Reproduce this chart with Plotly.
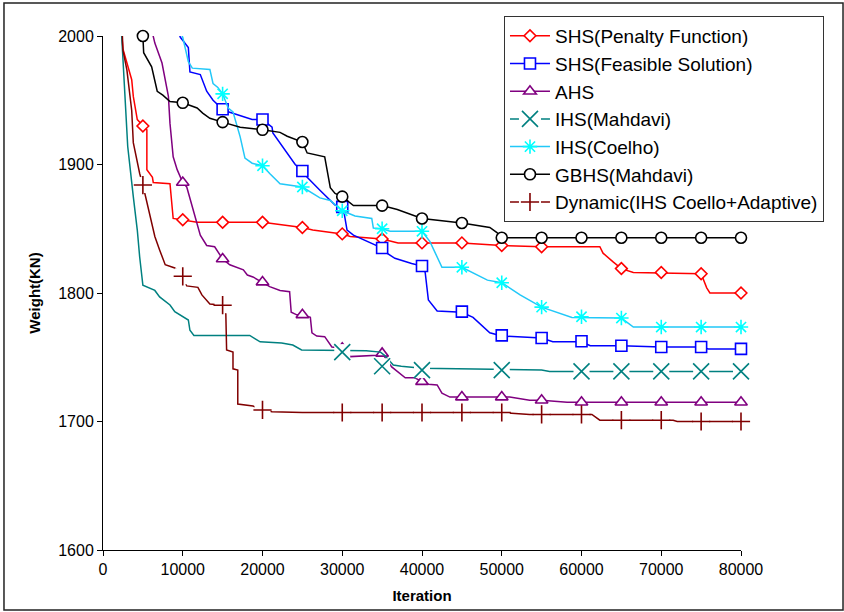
import plotly.graph_objects as go

# ---- data (iteration, weight) ----
pen_x = [2300, 2500, 3600, 3800, 4300, 5000, 5500, 5500, 6200, 6300, 8400, 8800, 10000, 11800, 20000,
         25000, 26300, 30000, 31000, 35000, 37000, 45000, 50000, 55000, 62300, 62700, 64000, 65000,
         66500, 74000, 75000, 75700, 76100, 80000]
pen_y = [2005, 1990, 1966, 1953, 1935, 1930, 1927, 1896, 1890, 1886, 1885, 1858, 1857, 1855, 1855,
         1851, 1849, 1846, 1844, 1842, 1839, 1839, 1837, 1836, 1836, 1831, 1824, 1819,
         1816, 1815, 1815, 1804, 1800, 1800]
pen_mx = [5000, 10000, 15000, 20000, 25000, 30000, 35000, 40000, 45000, 50000, 55000, 65000, 70000, 75000, 80000]
pen_my = [1930, 1857, 1855, 1855, 1851, 1846, 1842, 1839, 1839, 1837, 1836, 1819, 1816, 1815, 1800]

fea_x = [9400, 9700, 10700, 10900, 12200, 13000, 13800, 15000, 15700, 17200, 18700, 20000, 21200, 21300,
         24100, 25000, 25600, 27200, 29100, 30100, 30600, 31400, 33700, 35000, 35600, 36600, 38700,
         40000, 40400, 40800, 41900, 45000, 46400, 48500, 50000, 55000, 56400, 60000, 61100, 65000,
         70000, 75000, 75900, 80000]
fea_y = [2004, 1999, 1991, 1972, 1970, 1957, 1950, 1943, 1941, 1938, 1935, 1935, 1929, 1924.5,
         1900, 1895, 1890, 1880, 1868.5, 1867, 1849, 1845, 1839, 1835, 1831, 1827, 1823,
         1821, 1816, 1794.5, 1786, 1785, 1781, 1769, 1766.5, 1765, 1762, 1762, 1759, 1759,
         1758, 1758, 1756.5, 1756.5]
fea_mx = [15000, 20000, 25000, 30000, 35000, 40000, 45000, 50000, 55000, 60000, 65000, 70000, 75000, 80000]
fea_my = [1943, 1935, 1895, 1867, 1835, 1821, 1785.5, 1767, 1765, 1762.5, 1759, 1758, 1758, 1756.5]

ahs_x = [6100, 6500, 7400, 7800, 8200, 8400, 8800, 9300, 10000, 10500, 11200, 11800, 12200, 13000,
         14000, 15000, 15900, 17600, 18100, 18800, 20000, 20900, 22200, 23400, 23600, 24300, 25000,
         26000, 26200, 26800, 27800, 28700, 30000, 31000, 34400, 35000, 36200, 37900, 39100, 40000,
         40800, 41900, 42500, 43500, 51000, 53500, 55000, 58200, 80000]
ahs_y = [2005, 1994.5, 1979, 1966, 1953, 1932, 1906, 1896, 1886, 1882.5, 1867, 1854.5, 1845, 1837,
         1836, 1826.5, 1822, 1818, 1814, 1812.5, 1808.5, 1805, 1802, 1801, 1785, 1783, 1783,
         1781, 1769, 1766.5, 1766, 1758, 1757, 1750.5, 1751.5, 1753, 1742.5, 1734, 1734, 1731,
         1729, 1728.5, 1722, 1719, 1719, 1716.5, 1716.5, 1715, 1715]
ahs_mx = [10000, 15000, 20000, 25000, 30000, 35000, 40000, 45000, 50000, 55000, 60000, 65000, 70000, 75000, 80000]
ahs_my = [1886, 1826.5, 1808.5, 1783, 1757, 1753, 1731, 1719, 1719, 1716.5, 1715, 1715, 1715, 1715, 1715]

ihm_x = [2300, 2500, 2800, 3100, 3800, 4300, 4600, 4900, 5000, 6500, 7100, 8400, 9000, 10700, 10900,
         11400, 18400, 19700, 22400, 23800, 24900, 33000, 34800, 35300, 36400, 37400, 40000, 55000,
         56000, 80000]
ihm_y = [2005, 1983.5, 1942, 1914, 1875, 1849, 1828, 1810, 1806, 1802, 1797, 1790.7, 1785.5, 1779, 1771,
         1767, 1767, 1762, 1761, 1759.5, 1755.7, 1755, 1754, 1751.5, 1744, 1743, 1741.5, 1740,
         1739, 1739]
ihm_mx = [30000, 35000, 40000, 50000, 60000, 65000, 70000, 75000, 80000]
ihm_my = [1754, 1743, 1740, 1740, 1739, 1739, 1739, 1739, 1739]

ihc_x = [9600, 10000, 10700, 11200, 13400, 13800, 14400, 15000, 15700, 16300, 17200, 17800, 18700,
         20000, 20900, 22200, 25000, 26300, 27200, 28500, 30000, 31600, 33700, 33900, 35000, 36000,
         40000, 41000, 42500, 45000, 46400, 48200, 50000, 52300, 55000, 57300, 58800, 65000, 66500, 80000]
ihc_y = [2004, 1999, 1980, 1975, 1974, 1963, 1960, 1955, 1944, 1941, 1921.5, 1905, 1901,
         1899, 1893, 1885, 1882.5, 1877.5, 1874, 1872, 1864, 1860, 1858, 1850.5, 1850, 1848,
         1848, 1840, 1820, 1820, 1815.5, 1810, 1808, 1798.5, 1789, 1784, 1781, 1780.5, 1773.5, 1773.5]
ihc_mx = [15000, 20000, 25000, 30000, 35000, 40000, 45000, 50000, 55000, 60000, 65000, 70000, 75000, 80000]
ihc_my = [1955, 1899, 1882.5, 1864, 1850, 1848, 1820, 1808, 1789, 1781.5, 1780.5, 1773.5, 1773.5, 1773.5]

gb_x = [5000, 5100, 6100, 6800, 7500, 8400, 10000, 11800, 12500, 13400, 15000, 17200, 20000, 22200,
        23100, 25000, 25600, 27800, 28500, 29100, 30000, 31400, 35000, 36900, 40000, 45000, 48500,
        49400, 50000, 80000]
gb_y = [2000, 1987, 1976, 1957, 1954, 1949, 1948, 1944, 1940, 1936, 1933, 1929, 1927, 1925,
        1922, 1917.5, 1909, 1906, 1882, 1877.5, 1875, 1868, 1868, 1865, 1858, 1854.5, 1851,
        1847, 1843, 1843]
gb_mx = [5000, 10000, 15000, 20000, 25000, 30000, 35000, 40000, 45000, 50000, 55000, 60000, 65000, 70000, 75000, 80000]
gb_my = [2000, 1948, 1933, 1927, 1917.5, 1875, 1868, 1858, 1854.5, 1843, 1843, 1843, 1843, 1843, 1843, 1843]

dyn_x = [2400, 2500, 3000, 3600, 3800, 4300, 4600, 5000, 5500, 6100, 6500, 7100, 7800, 9000, 10000,
         10500, 11900, 12400, 13400, 15000, 15400, 15500, 16300, 16300, 16900, 16900, 18800, 20000,
         21200, 25000, 50000, 53500, 61300, 62300, 71500, 72000, 80000]
dyn_y = [2005, 1989, 1973.5, 1942, 1917, 1901, 1893, 1884, 1870, 1854.5, 1844, 1833.5, 1822, 1819.5, 1813,
         1805.5, 1804.4, 1798.5, 1791.5, 1790.5, 1784, 1755.6, 1754, 1741, 1740, 1713.6, 1712, 1709,
         1707.6, 1707, 1707, 1705.5, 1705.5, 1701, 1701, 1700, 1700]
dyn_mx = [5000, 10000, 15000, 20000, 30000, 35000, 40000, 45000, 50000, 55000, 60000, 65000, 70000, 75000, 80000]
dyn_my = [1884, 1813, 1790.5, 1709, 1707, 1707, 1707, 1707, 1707, 1705.5, 1705.5, 1701, 1701, 1700, 1700]

names = ["SHS(Penalty Function)", "SHS(Feasible Solution)", "AHS", "IHS(Mahdavi)",
         "IHS(Coelho)", "GBHS(Mahdavi)", "Dynamic(IHS Coello+Adaptive)"]

series = [
    dict(x=pen_x, y=pen_y, mx=pen_mx, my=pen_my, line="#FF0000", mcol="#FF0000", sym="diamond", size=9, mask=False, dash="solid"),
    dict(x=fea_x, y=fea_y, mx=fea_mx, my=fea_my, line="#0000FF", mcol="#0000FF", sym="square", size=11, mask=False, dash="solid"),
    dict(x=ahs_x, y=ahs_y, mx=ahs_mx, my=ahs_my, line="#800080", mcol="#800080", sym="triangle-up", size=11, mask=False, dash="solid"),
    dict(x=ihm_x, y=ihm_y, mx=ihm_mx, my=ihm_my, line="#008080", mcol="#008080", sym="x-thin-open", size=16, mask=True, dash="9px,22px"),
    dict(x=ihc_x, y=ihc_y, mx=ihc_mx, my=ihc_my, line="#22C8F8", mcol="#00FFFF", sym="asterisk-open", size=12, mask=False, dash="solid"),
    dict(x=gb_x, y=gb_y, mx=gb_mx, my=gb_my, line="#000000", mcol="#000000", sym="circle", size=11, mask=False, dash="solid"),
    dict(x=dyn_x, y=dyn_y, mx=dyn_mx, my=dyn_my, line="#800000", mcol="#800000", sym="cross-thin-open", size=13, mask=True, dash="9px,22px"),
]

fig = go.Figure()

def marker_style(s):
    if s["sym"].endswith("-open"):
        return dict(symbol=s["sym"], size=s["size"], color=s["mcol"], line=dict(color=s["mcol"], width=1.6))
    return dict(symbol=s["sym"], size=s["size"], color="white", line=dict(color=s["mcol"], width=1.6))

for name, s in zip(names, series):
    fig.add_trace(go.Scatter(x=s["x"], y=s["y"], mode="lines", showlegend=False, hoverinfo="skip",
                             line=dict(color=s["line"], width=1.5)))
    if s["mask"]:
        # excel draws a white box behind these markers, which breaks the lines
        fig.add_trace(go.Scatter(x=s["mx"], y=s["my"], mode="markers", showlegend=False, hoverinfo="skip",
                                 cliponaxis=False,
                                 marker=dict(symbol="square", size=16, color="white", line=dict(width=0))))
    fig.add_trace(go.Scatter(x=s["mx"], y=s["my"], mode="markers", showlegend=False, name=name,
                             cliponaxis=False, marker=marker_style(s)))

# legend entries
for name, s in zip(names, series):
    fig.add_trace(go.Scatter(x=[None], y=[None], mode="lines+markers", name=name,
                             line=dict(color=s["line"], width=1.5, dash=s["dash"]),
                             marker=marker_style(s)))

fig.update_layout(
    width=844, height=612,
    margin=dict(l=103, r=103, t=36, b=62, autoexpand=False),
    paper_bgcolor="white", plot_bgcolor="white",
    font=dict(family="Liberation Sans, Arial, sans-serif", color="black"),
    legend=dict(x=0.6285, y=1.039, xanchor="left", yanchor="top",
                bordercolor="#333333", borderwidth=1, bgcolor="white",
                font=dict(size=19), tracegroupgap=0, itemwidth=40),
    shapes=[dict(type="rect", xref="paper", yref="paper", x0=-0.1552, x1=1.1599, y0=-0.1167, y1=1.0642,
                 line=dict(color="#222222", width=1.5))],
)
fig.update_xaxes(range=[0, 80000], dtick=10000, tickformat="d", showgrid=False, zeroline=False, showline=True,
                 linecolor="black", linewidth=1, ticks="outside", ticklen=5, tickcolor="black",
                 tickfont=dict(size=16), title=dict(text="<b>Iteration</b>", font=dict(size=15), standoff=13))
fig.update_yaxes(range=[1600, 2000], dtick=100, showgrid=False, zeroline=False, showline=True,
                 linecolor="black", linewidth=1, ticks="outside", ticklen=5, tickcolor="black",
                 tickfont=dict(size=16), title=dict(text="<b>Weight(KN)</b>", font=dict(size=15), standoff=13))

# drop the default 8px page margin so the figure sits at the window corner
fig.write_html("out.html", config={"displayModeBar": False},
               post_script="document.body.style.margin='0';")
